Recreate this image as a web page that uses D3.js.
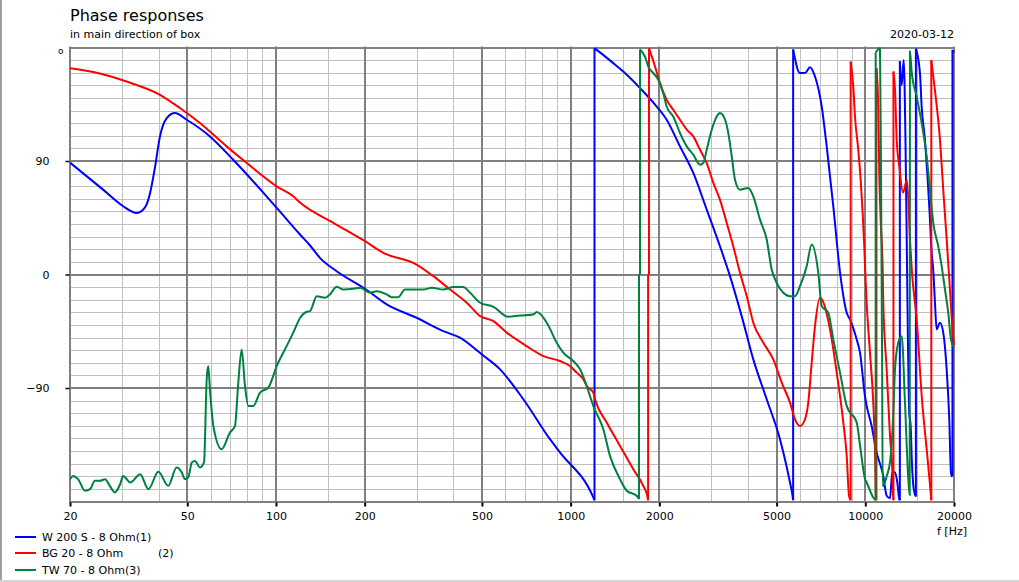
<!DOCTYPE html>
<html><head><meta charset="utf-8">
<script src="https://cdn.jsdelivr.net/npm/d3@7"></script>
<style>
body{margin:0;background:#fff;}
svg{display:block;font-family:"DejaVu Sans",sans-serif;}
</style>
</head><body>
<svg id="chart" width="1019" height="582"></svg>
<script>
// ---------- texts ----------
const titleText = "Phase responses";
const subtitleText = "in main direction of box";
const dateText = "2020-03-12";
const xUnitText = "f [Hz]";
const yUnitText = "o";

// ---------- ticks ----------
const xMajorTicks = [20, 50, 100, 200, 500, 1000, 2000, 5000, 10000, 20000];
const xMinorTicks = [30, 40, 60, 70, 80, 90, 150, 300, 400, 600, 700, 800, 900, 1500,
                     3000, 4000, 6000, 7000, 8000, 9000, 15000];
const yMajorTicks = [-180, -90, 0, 90, 180];
const yLabelTicks = [-90, 0, 90];
const yMinorTicks = d3.range(-170, 180, 10);

// ---------- series ----------
const seriesNames = ["W 200 S - 8 Ohm(1)", "BG 20 - 8 Ohm", "TW 70 - 8 Ohm(3)"];
const seriesSuffix = ["", "(2)", ""];
const seriesColors = ["#0000ff", "#ff0000", "#008040"];

// [frequency Hz, phase deg]
const w200s = [[20,88.7],[25.9,67.3],[30.3,54.1],[33.7,48.8],[35.9,53],[37.4,64.7],[38.9,85.7],[40.4,109.5],[42.6,124],[45.4,128],[49.8,122.7],[59.7,109.5],[71.6,91],[100.6,52.8],[120.7,31.7],[130.5,23],[141,13.2],[160.7,2.6],[200.5,-11.3],[237.6,-23.7],[300,-34.3],[370,-44.9],[421,-50.1],[499,-63.3],[576,-75.2],[691,-98.9],[851,-130.6],[920,-141.1],[1194,-176.8],[1205,-179],[1205,179.5],[1396,167.6],[1509,160.9],[1720,147.8],[1959,133.2],[2118,122.7],[2350,101.6],[2608,80.5],[2896,51.5],[3212,22.4],[3474,-1.3],[3806,-33],[4168,-67.3],[4628,-98.9],[5134,-130.6],[5552,-164.9],[5652,-174.1],[5690,-179],[5690,178.5],[6004,159.7],[6242,159.7],[6490,164.4],[6750,157],[7114,133.2],[7396,101.6],[7788,54.1],[8208,1.6],[8648,-30.3],[8872,-35.6],[9350,-51.5],[9592,-61.7],[9974,-96.3],[10108,-104.2],[10510,-120.1],[10900,-140],[11508,-159.7],[11818,-175.5],[12128,-177.5],[12348,-156.9],[12614,-156.9],[12842,-164.9],[13044,-178.1],[13100,-179],[13100,169],[13290,150],[13500,170],[13700,100],[13850,10],[13950,-50],[14100,-110],[14250,-120],[14400,-150],[14600,-170],[14850,-176],[14850,179],[15328,159.7],[15534,133.2],[15940,106.8],[16230,80.5],[16486,54.1],[16796,17.2],[17010,3.2],[17234,-22.2],[17466,-43.5],[17922,-38.2],[18390,-46.1],[18884,-75.2],[19276,-114.8],[19530,-157],[19684,-160],[19760,-160],[19760,178],[20000,176]];

const bg20 = [[20,163.6],[24,160.5],[31.1,153],[40.4,142.5],[47.2,132],[55.2,120.1],[68,101.6],[79.6,88.4],[100.6,69.9],[114.5,62],[120.7,57],[156.5,41],[200.5,26.4],[231.4,17.2],[300,7.9],[342,-1.3],[390,-11.9],[444,-22.4],[493,-33],[547,-37],[607,-46.1],[709,-56.8],[808,-64.7],[920,-68.6],[995,-72.6],[1049,-77.8],[1104,-83.1],[1134,-88.4],[1194,-93.6],[1210,-98.9],[1326,-117.4],[1471,-135.9],[1632,-154.4],[1764,-167.6],[1820,-175.5],[1832,-179],[1832,0],[1845,0],[1845,179.5],[1934,164.9],[2010,151.7],[2118,138.5],[2230,130.6],[2350,122.7],[2478,114.8],[2608,109.5],[2748,98.9],[2896,88.4],[3050,72.6],[3212,59.4],[3386,40.9],[3564,22.4],[3756,1.3],[3960,-17.2],[4168,-38.2],[4508,-54.1],[4872,-67.3],[5204,-85.7],[5552,-101.6],[5774,-114.8],[6004,-120.1],[6242,-114.8],[6404,-101.6],[6578,-69.9],[6750,-40.9],[7020,-18.4],[7590,-43.5],[7998,-77.8],[8422,-117.4],[8648,-143.8],[8806,-175.5],[8920,-179],[8920,168.8],[9104,149],[9226,125.3],[9466,98.9],[9644,75.2],[9796,48.8],[9920,22.4],[9998,1.6],[10108,-22.4],[10372,-62],[10642,-101.6],[10786,-138.5],[10868,-178],[10910,-179],[10910,163.6],[11068,133.2],[11154,80.5],[11276,43.5],[11456,4],[11508,-22.2],[11818,-75.2],[12128,-128],[12348,-154.4],[12446,-178],[12460,-179],[12460,160.9],[12614,146.4],[12780,106.9],[13044,85.7],[13426,64.9],[13850,75.2],[14176,27.7],[14400,1.6],[14940,-35.6],[15570,-98.9],[16154,-138.5],[16706,-175.7],[16750,-179],[16750,170],[17234,146],[17922,107],[18390,67],[18884,28],[19378,-12],[19840,-48],[20000,-56]];

const tw70 = [[20,-162.3],[20.5,-159.7],[21.3,-162.3],[22.5,-171.5],[23.4,-170.2],[24.3,-163.6],[25.3,-163.6],[26.3,-162.3],[27.3,-167.6],[28.4,-172.8],[29.6,-166.2],[30.3,-159.7],[32,-164.9],[34.6,-158.3],[36.9,-170.2],[39.9,-156.5],[43.1,-167.6],[46,-153],[47.9,-156.9],[49.1,-162.3],[50.4,-160.9],[51.8,-149],[53.1,-147.8],[55.2,-153],[57,-149],[58.2,-83.1],[58.9,-72.6],[59.7,-91],[61.3,-120.1],[65.4,-138.5],[69.8,-125.3],[72.6,-120.1],[74.5,-85.7],[76.5,-59.4],[78.5,-88.4],[80.6,-104.2],[83.8,-104.2],[88.3,-93.6],[94.2,-89.7],[100.6,-72.6],[108.7,-56.8],[114.5,-46.1],[120.7,-34.5],[127.1,-29.5],[130.5,-29],[137.5,-17.2],[146.7,-18.4],[152.5,-15.8],[160.7,-9.7],[169.3,-11.9],[183,-11.3],[193,-10.5],[208.5,-14.5],[220,-13.2],[237.6,-15.8],[247,-18],[260,-18],[274,-11.9],[316,-11.9],[338,-10.5],[370,-11.9],[400,-10],[432,-10],[456,-14.5],[493,-22.4],[547,-25.6],[614,-33.5],[673,-32.5],[747,-31.7],[767,-29.8],[830,-38.2],[897,-54.1],[944,-62],[1021,-68.6],[1076,-75.2],[1134,-88.4],[1163,-96.3],[1194,-104.2],[1291,-122.7],[1360,-143.8],[1471,-162.3],[1550,-171.5],[1676,-175.5],[1706,-178],[1706,0],[1720,0],[1720,178.4],[1788,172.8],[1835,164.9],[1908,159.7],[1984,154.4],[2062,143.8],[2118,133.2],[2230,125.3],[2350,112.2],[2478,101.6],[2608,95],[2748,87.1],[2820,88.4],[2896,98.9],[3012,114.8],[3132,125.3],[3212,128],[3342,122.7],[3428,112.2],[3522,93.6],[3612,75.2],[3756,67.3],[4008,68.6],[4168,62],[4392,43.5],[4628,27.7],[4812,4],[5004,-6.6],[5268,-14.5],[5552,-17.2],[5774,-17.2],[6004,-9.3],[6326,6.6],[6578,23.7],[6926,1.3],[7114,-25.1],[7488,-30.3],[7788,-51.5],[8208,-77.8],[8648,-104.2],[9350,-117.4],[9592,-135],[9974,-162],[10108,-164.9],[10642,-176.8],[10844,-179],[10844,176],[11214,179.5],[11300,90],[11400,-60],[11456,-168],[11818,-160],[12128,-149],[12446,-110],[12614,-75],[12942,-54],[13290,-49],[13638,-102],[13992,-162],[14150,-175],[14176,177],[14366,160.7],[14940,141.2],[15534,120.1],[16154,93.6],[16576,67.3],[17010,40.9],[17684,22.4],[18162,6.6],[18638,-11.9],[19124,-30.3],[19530,-51.5],[20000,-58]];

const seriesData = [w200s, bg20, tw70];

// ---------- layout ----------
const W = 1019, H = 582;
const plot = {left: 70, right: 954, top: 47.5, bottom: 501.5};

const svg = d3.select("#chart");
const x = d3.scaleLog().domain([20, 20000]).range([plot.left, plot.right]);
const y = d3.scaleLinear().domain([-180, 180]).range([plot.bottom, plot.top]);

// window edges
svg.append("rect").attr("x", 0).attr("y", 0).attr("width", 2).attr("height", H).attr("fill", "#a0a0a0");
svg.append("rect").attr("x", 0).attr("y", H - 2).attr("width", W).attr("height", 2).attr("fill", "#d4d4d4");

// titles
svg.append("text").attr("x", 70).attr("y", 21).attr("font-size", 16).attr("fill", "#000").text(titleText);
svg.append("text").attr("x", 70).attr("y", 38).attr("font-size", 11).attr("fill", "#000").text(subtitleText);
svg.append("text").attr("x", 954).attr("y", 38).attr("font-size", 11).attr("text-anchor", "end").attr("fill", "#000").text(dateText);

// grid
const grid = svg.append("g");
grid.selectAll(".xmin").data(xMinorTicks).enter().append("line")
  .attr("x1", d => Math.round(x(d)) + 0.5).attr("x2", d => Math.round(x(d)) + 0.5)
  .attr("y1", plot.top).attr("y2", plot.bottom)
  .attr("stroke", "#c0c0c0").attr("stroke-width", 1);
grid.selectAll(".ymin").data(yMinorTicks.filter(v => v % 90 !== 0)).enter().append("line")
  .attr("x1", plot.left).attr("x2", plot.right)
  .attr("y1", d => Math.round(y(d)) + 0.5).attr("y2", d => Math.round(y(d)) + 0.5)
  .attr("stroke", "#c0c0c0").attr("stroke-width", 1);
grid.selectAll(".xmaj").data(xMajorTicks).enter().append("line")
  .attr("x1", d => Math.round(x(d))).attr("x2", d => Math.round(x(d)))
  .attr("y1", plot.top - 1).attr("y2", plot.bottom + 1)
  .attr("stroke", "#808080").attr("stroke-width", 2);
grid.selectAll(".ymaj").data(yMajorTicks).enter().append("line")
  .attr("x1", plot.left - 1).attr("x2", plot.right + 1)
  .attr("y1", d => Math.round(y(d))).attr("y2", d => Math.round(y(d)))
  .attr("stroke", "#808080").attr("stroke-width", 2);

// axes
const xAxis = d3.axisBottom(x).tickValues(xMajorTicks).tickFormat(d3.format("d")).tickSize(4).tickPadding(6);
const gx = svg.append("g").attr("transform", `translate(0,${plot.bottom + 1})`).call(xAxis);
gx.select(".domain").remove();
gx.selectAll(".tick line").attr("stroke", "#000").attr("stroke-width", 2);
gx.selectAll(".tick text").attr("font-size", 11).attr("font-family", "DejaVu Sans").attr("fill", "#000");

const yAxis = d3.axisLeft(y).tickValues(yLabelTicks).tickFormat(d3.format("d")).tickSize(4).tickPadding(16);
const gy = svg.append("g").attr("transform", `translate(${plot.left - 0.5},0)`).call(yAxis);
gy.select(".domain").remove();
gy.selectAll(".tick line").attr("stroke", "#000").attr("stroke-width", 1.5);
gy.selectAll(".tick text").attr("font-size", 11).attr("font-family", "DejaVu Sans").attr("fill", "#000");

svg.append("text").attr("x", 58).attr("y", 54).attr("font-size", 9).attr("fill", "#000").text(yUnitText);
svg.append("text").attr("x", 937).attr("y", 535).attr("font-size", 11).attr("fill", "#000").text(xUnitText);

// curves: split at phase wraps (same frequency twice) -> smooth pieces + vertical jump lines
svg.append("clipPath").attr("id", "clip").append("rect")
  .attr("x", plot.left).attr("y", plot.top - 1)
  .attr("width", plot.right - plot.left + 1).attr("height", plot.bottom - plot.top + 2);
const smooth = d3.line().x(d => x(d[0])).y(d => y(d[1])).curve(d3.curveMonotoneX);
const straight = d3.line().x(d => x(d[0])).y(d => y(d[1]));
const curves = svg.append("g").attr("clip-path", "url(#clip)");

function splitAtJumps(data) {
  const pieces = [], jumps = [];
  let cur = [data[0]];
  for (let i = 1; i < data.length; i++) {
    if (data[i][0] === data[i - 1][0]) {
      pieces.push(cur);
      jumps.push([data[i - 1], data[i]]);
      cur = [data[i]];
    } else cur.push(data[i]);
  }
  pieces.push(cur);
  return {pieces, jumps};
}

seriesData.forEach((data, i) => {
  const {pieces, jumps} = splitAtJumps(data);
  const g = curves.append("g").attr("stroke", seriesColors[i]).attr("stroke-width", 2)
    .attr("fill", "none").attr("stroke-linejoin", "round");
  pieces.filter(p => p.length > 1).forEach(p => g.append("path").datum(p).attr("d", smooth));
  jumps.forEach(j => g.append("path").datum(j).attr("d", straight));
});

// legend
const legendY = [537, 553, 570];
const legend = svg.append("g");
seriesNames.forEach((name, i) => {
  legend.append("line").attr("x1", 15).attr("x2", 36).attr("y1", legendY[i]).attr("y2", legendY[i])
    .attr("stroke", seriesColors[i]).attr("stroke-width", 2);
  legend.append("text").attr("x", 42).attr("y", legendY[i] + 4).attr("font-size", 11).attr("fill", "#000").text(name);
  if (seriesSuffix[i]) {
    legend.append("text").attr("x", 158).attr("y", legendY[i] + 4).attr("font-size", 11).attr("fill", "#000").text(seriesSuffix[i]);
  }
});
</script>
</body></html>
